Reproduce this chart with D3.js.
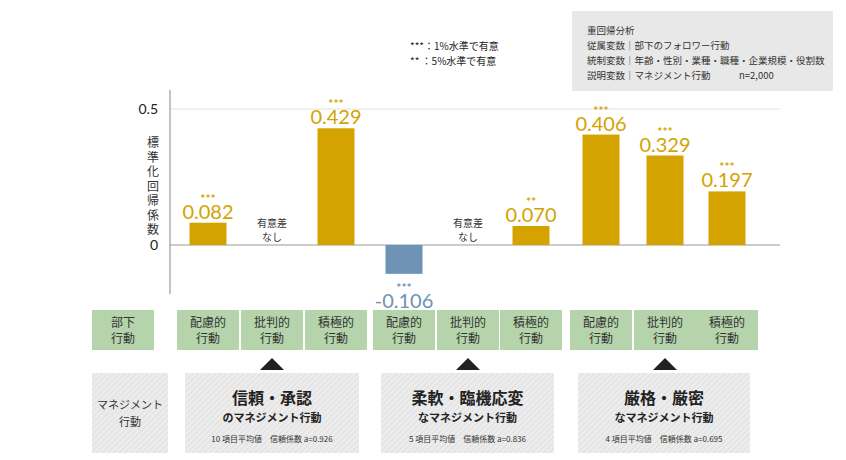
<!DOCTYPE html>
<html><head><meta charset="utf-8">
<script src="https://cdn.jsdelivr.net/npm/d3@7"></script>
<style>body{margin:0;background:#fff;font-family:"Noto Sans CJK JP","Noto Sans",sans-serif;}</style>
</head><body>
<svg id="canvas" width="846" height="460"></svg>
<script>
// columns: index 0 is the 部下行動 header box
var columns = ['部下\n行動','配慮的\n行動','批判的\n行動','積極的\n行動','配慮的\n行動','批判的\n行動','積極的\n行動','配慮的\n行動','批判的\n行動','積極的\n行動'];
var colCenters = [123, 208, 272, 336, 404, 468, 531, 601, 665, 727];
var values = [null, 0.082, null, 0.429, -0.106, null, 0.070, 0.406, 0.329, 0.197];
var stars = [null, '***', null, '***', '***', null, '**', '***', '***', '***'];
var groups = [
	{title: '信頼・承認', sub: 'のマネジメント行動', note: '10 項目平均値　信頼係数 a=0.926', from: 1, to: 3},
	{title: '柔軟・臨機応変', sub: 'なマネジメント行動', note: '5 項目平均値　信頼係数 a=0.836', from: 4, to: 6},
	{title: '厳格・厳密', sub: 'なマネジメント行動', note: '4 項目平均値　信頼係数 a=0.695', from: 7, to: 9}
];
var yTicks = [0, 0.5];
var infoLines = ['重回帰分析', '従属変数｜部下のフォロワー行動', '統制変数｜年齢・性別・業種・職種・企業規模・役割数', '説明変数｜マネジメント行動　　　n=2,000'];

var svg = d3.select('#canvas');
var gold = '#d4a300', blue = '#6e93b4', green = '#b5d4ab';

var defs = svg.append('defs');
var pat = defs.append('pattern').attr('id', 'hatch').attr('width', 4).attr('height', 4)
	.attr('patternUnits', 'userSpaceOnUse').attr('patternTransform', 'rotate(45)');
pat.append('rect').attr('width', 4).attr('height', 4).attr('fill', '#ececec');
pat.append('line').attr('x1', 0).attr('y1', 0).attr('x2', 0).attr('y2', 4).attr('stroke', '#dcdcdc').attr('stroke-width', 1.5);

var y = d3.scaleLinear().domain([0, 0.5]).range([245, 109]);

// grid & axes
svg.append('line').attr('x1', 170).attr('x2', 780).attr('y1', y(0.5)).attr('y2', y(0.5)).attr('stroke', '#e2e2e2');
svg.append('line').attr('x1', 170).attr('x2', 780).attr('y1', y(0)).attr('y2', y(0)).attr('stroke', '#999');
svg.append('line').attr('x1', 170).attr('x2', 170).attr('y1', 90).attr('y2', 294).attr('stroke', '#999').attr('stroke-width', 1.2);
yTicks.forEach(function(t){
	svg.append('text').attr('x', 158).attr('y', y(t) + 5).attr('text-anchor', 'end')
		.attr('font-family', 'Lato').attr('font-size', 14).attr('fill', '#222').text(t);
});
'標準化回帰係数'.split('').forEach(function(c, i){
	svg.append('text').attr('x', 153).attr('y', 147 + i * 14.5).attr('text-anchor', 'middle')
		.attr('font-size', 12).attr('fill', '#333').text(c);
});

// bars
var bw = 37;
values.forEach(function(v, i){
	if (i == 0) return;
	var cx = colCenters[i];
	if (v === null) {
		svg.append('text').attr('x', cx).attr('y', 227).attr('text-anchor', 'middle').attr('font-size', 10).attr('fill', '#333').text('有意差');
		svg.append('text').attr('x', cx).attr('y', 241).attr('text-anchor', 'middle').attr('font-size', 10).attr('fill', '#333').text('なし');
		return;
	}
	var col = v < 0 ? blue : gold;
	svg.append('rect').attr('x', cx - bw / 2).attr('width', bw)
		.attr('y', Math.min(y(v), y(0))).attr('height', Math.abs(y(v) - y(0))).attr('fill', col);
	var top = v < 0 ? y(v) + 14 : y(v) - 24;
	svg.append('text').attr('x', cx).attr('y', top + 4).attr('text-anchor', 'middle')
		.attr('font-family', 'Lato').attr('font-size', 12).attr('font-weight', 'bold').attr('fill', col).text(stars[i]);
	svg.append('text').attr('x', cx).attr('y', top + 20).attr('text-anchor', 'middle')
		.attr('font-family', 'Lato').attr('font-size', 20).attr('fill', col).text(v.toFixed(3));
});

// green column boxes
columns.forEach(function(c, i){
	var cx = colCenters[i];
	svg.append('rect').attr('x', cx - 31).attr('y', 310).attr('width', 62).attr('height', 40).attr('fill', green);
	c.split('\n').forEach(function(s, k){
		svg.append('text').attr('x', cx).attr('y', 327 + k * 16).attr('text-anchor', 'middle')
			.attr('font-size', 12).attr('fill', '#333').text(s);
	});
});

// bottom boxes
svg.append('rect').attr('x', 92).attr('y', 373).attr('width', 76).attr('height', 80).attr('fill', 'url(#hatch)');
svg.append('text').attr('x', 130).attr('y', 409).attr('text-anchor', 'middle').attr('font-size', 11).attr('fill', '#333').text('マネジメント');
svg.append('text').attr('x', 130).attr('y', 426).attr('text-anchor', 'middle').attr('font-size', 11).attr('fill', '#333').text('行動');
groups.forEach(function(g){
	var x0 = colCenters[g.from] - 23, x1 = colCenters[g.to] + 23, cx = (x0 + x1) / 2;
	svg.append('rect').attr('x', x0).attr('y', 373).attr('width', x1 - x0).attr('height', 80).attr('fill', 'url(#hatch)');
	var tc = colCenters[g.from + 1];
	svg.append('path').attr('d', 'M' + (tc - 12) + ' 370 L' + tc + ' 358 L' + (tc + 12) + ' 370 Z').attr('fill', '#222');
	svg.append('text').attr('x', cx).attr('y', 404).attr('text-anchor', 'middle').attr('font-size', 16).attr('font-weight', 'bold').attr('fill', '#222').text(g.title);
	svg.append('text').attr('x', cx).attr('y', 422).attr('text-anchor', 'middle').attr('font-size', 11).attr('font-weight', 'bold').attr('fill', '#222').text(g.sub);
	svg.append('text').attr('x', cx).attr('y', 442).attr('text-anchor', 'middle').attr('font-size', 8).attr('fill', '#333').text(g.note);
});

// legend
svg.append('text').attr('x', 410).attr('y', 50).attr('font-size', 10).attr('fill', '#222').text('***：1%水準で有意');
svg.append('text').attr('x', 410).attr('y', 65).attr('font-size', 10).attr('fill', '#222').text('**  ：5%水準で有意');

// info box
svg.append('rect').attr('x', 572).attr('y', 11).attr('width', 261).attr('height', 80).attr('fill', '#e8e8e8');
infoLines.forEach(function(s, i){
	svg.append('text').attr('x', 587).attr('y', 34 + i * 15).attr('font-size', 9.5).attr('fill', '#333').text(s);
});
</script>
</body></html>
